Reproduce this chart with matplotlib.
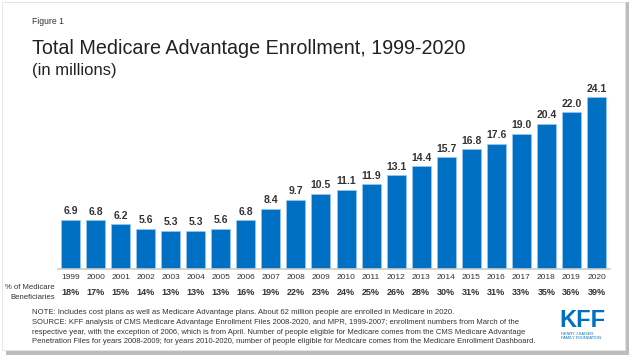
import matplotlib.pyplot as plt
from matplotlib.patches import Rectangle

plt.rcParams['font.family'] = ['Liberation Sans', 'DejaVu Sans']

# data
years = list(range(1999, 2021))
enrollment = [6.9, 6.8, 6.2, 5.6, 5.3, 5.3, 5.6, 6.8, 8.4, 9.7, 10.5,
              11.1, 11.9, 13.1, 14.4, 15.7, 16.8, 17.6, 19.0, 20.4, 22.0, 24.1]
pct_benef = [18, 17, 15, 14, 13, 13, 13, 16, 19, 22, 23,
             24, 25, 26, 28, 30, 31, 31, 33, 35, 36, 39]

W, H = 636, 363
blue = '#0070C4'
dark = '#333333'

fig = plt.figure(figsize=(W / 100, H / 100), dpi=100)

def fx(px):
    return px / W

def fy(py):
    return 1 - py / H

# card with drop shadow
fig.patches.append(Rectangle((fx(6), fy(355)), fx(623), 353 / H, transform=fig.transFigure,
                             facecolor='#bdbdbd', edgecolor='none', zorder=0))
fig.patches.append(Rectangle((fx(2), fy(350)), fx(623), 348 / H, transform=fig.transFigure,
                             facecolor='white', edgecolor='#e4e4e4', lw=0.6, zorder=1))

# bar axes
base_px = 268.5
px_per_unit = 7.1
ymax = 26
ax = fig.add_axes([fx(58), fy(base_px), fx(552), ymax * px_per_unit / H])
ax.set_zorder(2)
ax.patch.set_alpha(0)
ax.bar(years, enrollment, width=0.76, color=blue, edgecolor='#9cc8ee', linewidth=0.5)
for yr, v in zip(years, enrollment):
    ax.annotate(f'{v:.1f}', (yr, v), xytext=(0, 2.5), textcoords='offset points',
                ha='center', va='bottom', fontsize=7.5, fontweight='bold', color=dark)
ax.set_xlim(1998.5, 2020.54)
ax.set_ylim(0, ymax)
for s in ['top', 'right', 'left']:
    ax.spines[s].set_visible(False)
ax.spines['bottom'].set_color('#cccccc')
ax.spines['bottom'].set_linewidth(1.2)
ax.set_yticks([])
ax.set_xticks(years)
ax.set_xticklabels([str(y) for y in years], fontsize=6, color=dark)
ax.tick_params(axis='x', length=0, pad=4)

# percent row
for yr, p in zip(years, pct_benef):
    ax.annotate(f'{p}%', (yr, 0), xytext=(0, -17.5), textcoords='offset points',
                ha='center', va='center', fontsize=6.5, fontweight='bold', color=dark,
                annotation_clip=False)
fig.text(fx(55), fy(292.5), '% of Medicare\nBeneficiaries', ha='right', va='center',
         fontsize=5.6, color=dark, linespacing=1.5, multialignment='right')

# titles
fig.text(fx(32), fy(22), 'Figure 1', fontsize=6.2, color=dark, va='center')
fig.text(fx(32), fy(48), 'Total Medicare Advantage Enrollment, 1999-2020',
         fontsize=14.2, color='#222222', va='center')
fig.text(fx(32), fy(71), '(in millions)', fontsize=12, color='#222222', va='center')

# notes
fig.text(fx(32), fy(312), 'NOTE: Includes cost plans as well as Medicare Advantage plans. '
         'About 62 million people are enrolled in Medicare in 2020.',
         fontsize=5.6, color=dark, va='center')
fig.text(fx(32), fy(319.5), 'SOURCE: KFF analysis of CMS Medicare Advantage Enrollment Files 2008-2020, '
         'and MPR, 1999-2007; enrollment numbers from March of the\n'
         'respective year, with the exception of 2006, which is from April. Number of people '
         'eligible for Medicare comes from the CMS Medicare Advantage\n'
         'Penetration Files for years 2008-2009; for years 2010-2020, number of people eligible '
         'for Medicare comes from the Medicare Enrollment Dashboard.',
         fontsize=5.5, color=dark, va='top', linespacing=1.45)

# logo
fig.text(fx(582), fy(327), 'KFF', fontsize=17, fontweight='bold', color=blue,
         ha='center', va='baseline')
fig.text(fx(561), fy(332), 'HENRY J KAISER\nFAMILY FOUNDATION', fontsize=2.8,
         color=blue, ha='left', va='top', linespacing=1.1)

fig.savefig('out.png', dpi=100)
